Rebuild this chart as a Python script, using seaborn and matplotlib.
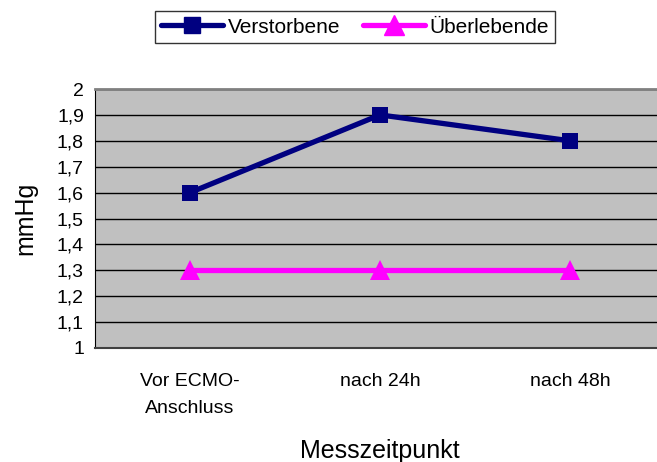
import pandas as pd
import matplotlib.pyplot as plt
import seaborn as sns
from matplotlib.ticker import FuncFormatter

# Data
zeitpunkte = ["Vor ECMO-\nAnschluss", "nach 24h", "nach 48h"]
verstorbene = [1.6, 1.9, 1.8]
ueberlebende = [1.3, 1.3, 1.3]

df = pd.DataFrame({
    "Messzeitpunkt": zeitpunkte * 2,
    "Wert": verstorbene + ueberlebende,
    "Gruppe": ["Verstorbene"] * 3 + ["Überlebende"] * 3,
})

sns.set_style("white")
plt.rcParams["font.family"] = ["Liberation Sans", "DejaVu Sans"]
plt.rcParams["text.color"] = "black"
plt.rcParams["axes.labelcolor"] = "black"
plt.rcParams["xtick.color"] = "black"
plt.rcParams["ytick.color"] = "black"

fig = plt.figure(figsize=(6.57, 4.62), dpi=100)
ax = fig.add_axes([95 / 657, 114 / 462, 570 / 657, 259 / 462])
ax.set_facecolor("#C0C0C0")

x_pos = {z: i for i, z in enumerate(zeitpunkte)}
df["x"] = df["Messzeitpunkt"].map(x_pos)

sns.lineplot(
    data=df, x="x", y="Wert", hue="Gruppe", style="Gruppe",
    palette={"Verstorbene": "#000080", "Überlebende": "#FF00FF"},
    markers={"Verstorbene": "s", "Überlebende": "^"},
    dashes=False, linewidth=3.8, markersize=12, markeredgewidth=0,
    ax=ax, legend=False,
)
for line in ax.lines:
    if line.get_marker() == "^":
        line.set_markersize(15)

ax.set_xlim(-0.5, 2.5)
ax.set_ylim(1, 2)
ax.set_yticks([1 + i / 10 for i in range(11)])
ax.yaxis.set_major_formatter(FuncFormatter(lambda v, p: f"{v:.1f}".replace(".", ",").replace(",0", "")))
ax.set_xticks(range(3))
ax.set_xticklabels(zeitpunkte, linespacing=1.75)
ax.set_xticks([-0.5, 0.5, 1.5, 2.5], minor=True)
ax.tick_params(axis="x", which="major", length=0, pad=18, labelsize=14)
ax.tick_params(axis="x", which="minor", length=5, width=1, color="black", direction="out")
ax.tick_params(axis="y", length=5, width=1, color="black", direction="out", labelsize=14, pad=3)
ax.grid(axis="y", color="black", linewidth=1)
ax.set_axisbelow(True)

for s in ["top", "right"]:
    ax.spines[s].set_color("#808080")
    ax.spines[s].set_linewidth(2)
ax.spines["left"].set_color("black")
ax.spines["bottom"].set_color("#404040")
ax.spines["bottom"].set_linewidth(1.5)

ax.set_xlabel("Messzeitpunkt", fontsize=18, labelpad=16)
ax.set_ylabel("mmHg", fontsize=18, labelpad=14)

handles = [
    plt.Line2D([], [], color="#000080", marker="s", linewidth=3.8, markersize=12),
    plt.Line2D([], [], color="#FF00FF", marker="^", linewidth=3.8, markersize=14),
]
leg = fig.legend(handles, ["Verstorbene", "Überlebende"], loc="upper center",
                 bbox_to_anchor=(355 / 657, 1 - 1 / 462), ncol=2, frameon=True,
                 fancybox=False, edgecolor="black", fontsize=15,
                 handlelength=3.0, columnspacing=1.1, handletextpad=0.2,
                 borderpad=0.3)
leg.get_frame().set_linewidth(1)

fig.savefig("out.png", dpi=100)
